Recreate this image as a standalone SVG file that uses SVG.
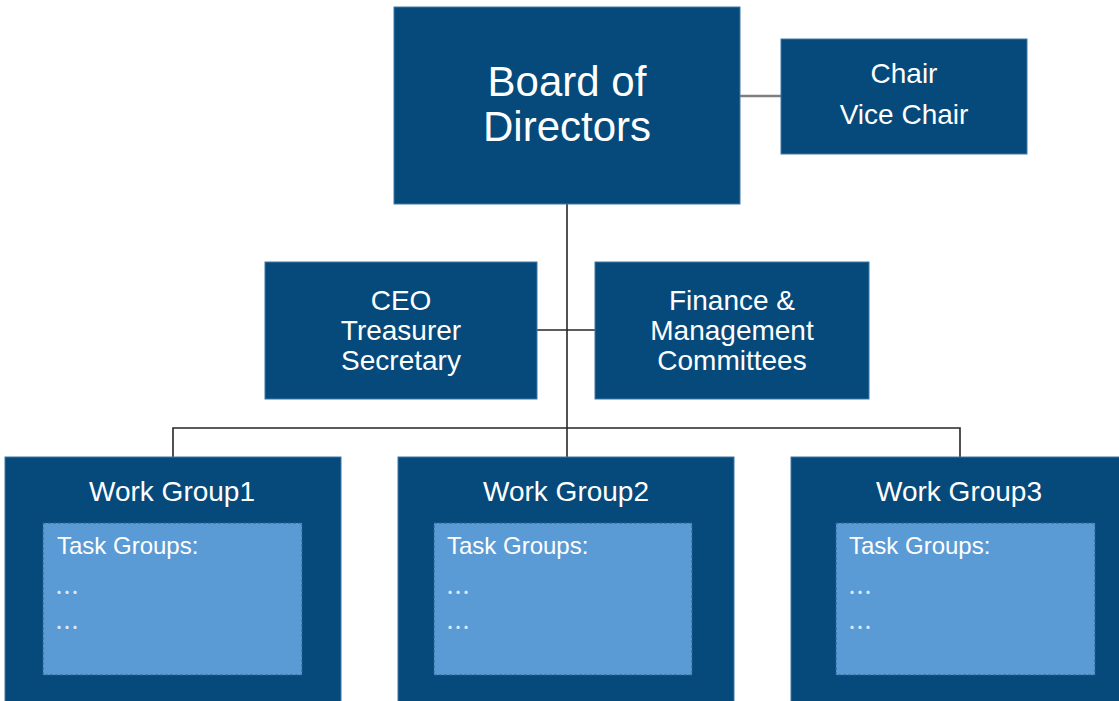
<svg xmlns="http://www.w3.org/2000/svg" width="1119" height="701" viewBox="0 0 1119 701">
<style>
.box{fill:#054A7A;stroke:#3F79A8;stroke-width:1}
.inner{fill:#5B9BD5;stroke:#2F5F8C;stroke-width:1;stroke-dasharray:3 2}
.t{font-family:"Liberation Sans",Arial,sans-serif;fill:#FFFFFF;text-anchor:middle}
.big{font-size:42px}
.mid{font-size:28px}
.small{font-size:24px;text-anchor:start}
.dots{font-family:"Noto Sans CJK SC","Noto Sans CJK JP",sans-serif;font-size:24px;fill:#FFFFFF;fill-opacity:0.8}
.ln{fill:none;stroke:#262626;stroke-width:1.6}
.lng{fill:none;stroke:#7F7F7F;stroke-width:2.5}
</style>
<rect width="1119" height="701" fill="#FFFFFF"/>
<g id="connectors">
<line class="lng" x1="740" y1="96" x2="781" y2="96"/>
<line class="ln" x1="567" y1="204" x2="567" y2="457"/>
<line class="ln" x1="537" y1="330" x2="595" y2="330"/>
<polyline class="ln" points="173,457 173,428 960,428 960,457"/>
</g>
<g id="board">
<rect class="box" x="394" y="7" width="346" height="197"/>
<text class="t big" x="567" y="96">Board of</text>
<text class="t big" x="567" y="141">Directors</text>
</g>
<g id="chair">
<rect class="box" x="781" y="39" width="246" height="115"/>
<text class="t mid" x="904" y="83">Chair</text>
<text class="t mid" x="904" y="124">Vice Chair</text>
</g>
<g id="officers">
<rect class="box" x="265" y="262" width="272" height="137"/>
<text class="t mid" x="401" y="310">CEO</text>
<text class="t mid" x="401" y="340">Treasurer</text>
<text class="t mid" x="401" y="370">Secretary</text>
</g>
<g id="committees">
<rect class="box" x="595" y="262" width="274" height="137"/>
<text class="t mid" x="732" y="310">Finance &amp;</text>
<text class="t mid" x="732" y="340">Management</text>
<text class="t mid" x="732" y="370">Committees</text>
</g>
<g id="wg1">
<rect class="box" x="5" y="457" width="336" height="260"/>
<text class="t mid" x="172" y="501">Work Group1</text>
<rect class="inner" x="43" y="523" width="259" height="152"/>
<text class="t small" x="57" y="554">Task Groups:</text>
<text class="dots" x="55" y="601">…</text>
<text class="dots" x="55" y="636">…</text>
</g>
<g id="wg2">
<rect class="box" x="398" y="457" width="336" height="260"/>
<text class="t mid" x="566" y="501">Work Group2</text>
<rect class="inner" x="434" y="523" width="258" height="152"/>
<text class="t small" x="447" y="554">Task Groups:</text>
<text class="dots" x="446" y="601">…</text>
<text class="dots" x="446" y="636">…</text>
</g>
<g id="wg3">
<rect class="box" x="791" y="457" width="336" height="260"/>
<text class="t mid" x="959" y="501">Work Group3</text>
<rect class="inner" x="836" y="523" width="259" height="152"/>
<text class="t small" x="849" y="554">Task Groups:</text>
<text class="dots" x="848" y="601">…</text>
<text class="dots" x="848" y="636">…</text>
</g>
</svg>
